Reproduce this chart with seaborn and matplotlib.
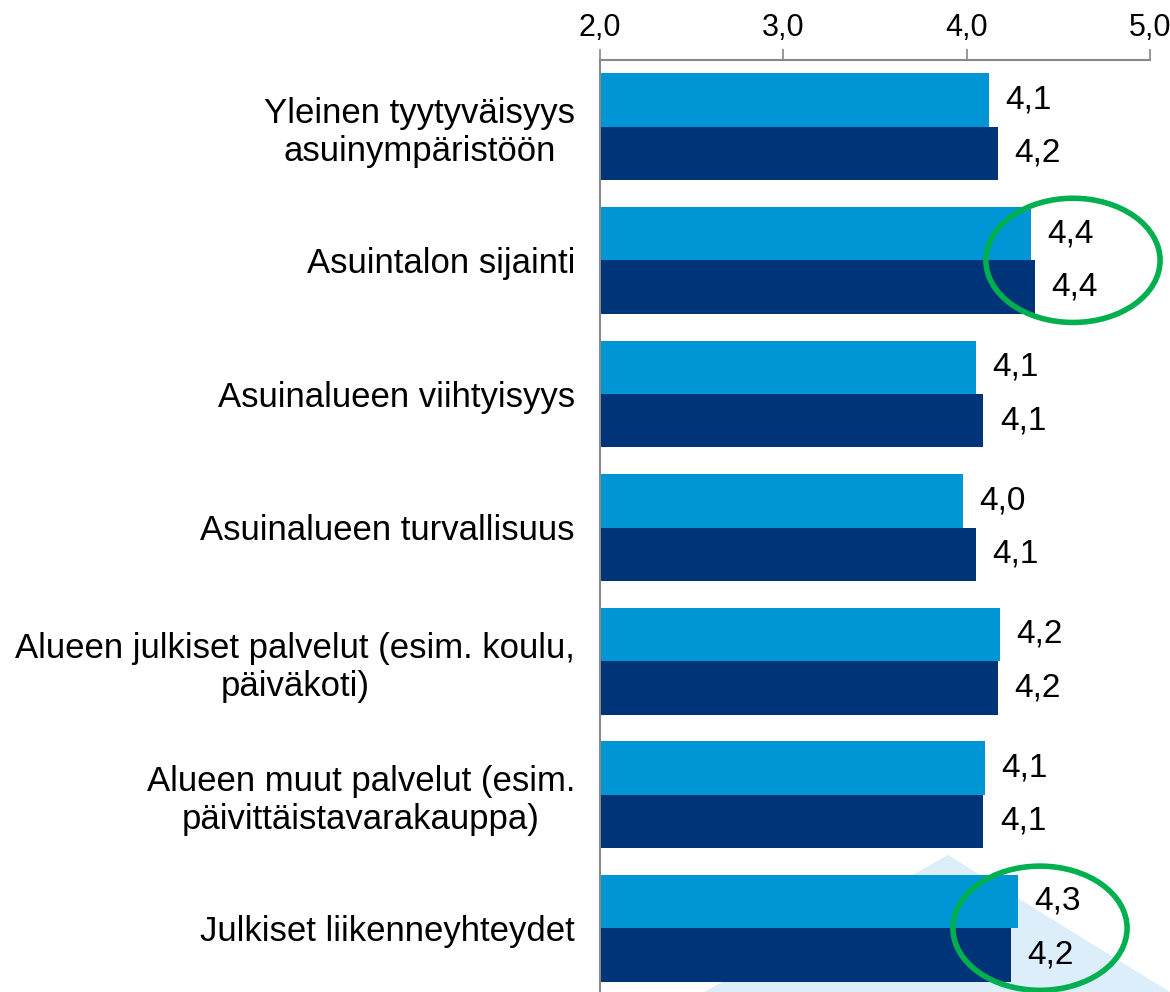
import matplotlib
matplotlib.use("Agg")
import matplotlib.pyplot as plt
from matplotlib.patches import Ellipse, Polygon
import seaborn as sns
import pandas as pd
import numpy as np

categories = [
    "Yleinen tyytyväisyys\nasuinympäristöön",
    "Asuintalon sijainti",
    "Asuinalueen viihtyisyys",
    "Asuinalueen turvallisuus",
    "Alueen julkiset palvelut (esim. koulu,\npäiväkoti)",
    "Alueen muut palvelut (esim.\npäivittäistavarakauppa)",
    "Julkiset liikenneyhteydet",
]
series_names = ["Sarja 1", "Sarja 2"]
values_a = [4.12, 4.35, 4.05, 3.98, 4.18, 4.10, 4.28]
values_b = [4.17, 4.37, 4.09, 4.05, 4.17, 4.09, 4.24]
labels_a = ["4,1", "4,4", "4,1", "4,0", "4,2", "4,1", "4,3"]
labels_b = ["4,2", "4,4", "4,1", "4,1", "4,2", "4,1", "4,2"]
xticks = [2.0, 3.0, 4.0, 5.0]
xtick_labels = ["2,0", "3,0", "4,0", "5,0"]

colors = ["#0096D6", "#003478"]

sns.set_theme(style="white")
plt.rcParams["font.family"] = ["Liberation Sans", "DejaVu Sans"]
plt.rcParams["text.color"] = "black"
plt.rcParams["xtick.color"] = "black"
plt.rcParams["ytick.color"] = "black"

df = pd.DataFrame({
    "cat": categories * 2,
    "val": values_a + values_b,
    "series": [series_names[0]] * len(categories) + [series_names[1]] * len(categories),
})

fig = plt.figure(figsize=(11.7, 9.92), dpi=100)
fig.patch.set_facecolor("white")

# background watermark triangle (figure coordinates)
tri = Polygon([[948 / 1170, 1 - 855 / 992], [704 / 1170, 0.0], [1.0, 0.0]],
              closed=True, transform=fig.transFigure, facecolor="#DCEEFA", edgecolor="none", zorder=0)
fig.patches.append(tri)

ax = fig.add_axes([600 / 1170, -3 / 992, 550 / 1170, 935 / 992])
ax.set_zorder(2)
ax.patch.set_alpha(0)

sns.barplot(data=df, y="cat", x="val", hue="series", palette=colors, orient="h",
            width=0.8, dodge=True, ax=ax, legend=False, saturation=1, linewidth=0)

for cont, labs in zip(ax.containers, [labels_a, labels_b]):
    ax.bar_label(cont, labels=labs, padding=12, fontsize=24, color="black")

ax.set_xlim(2.0, 5.0)
ax.set_ylim(6.5, -0.5)
ax.xaxis.tick_top()
ax.set_xticks(xticks)
ax.set_xticklabels(xtick_labels, fontsize=22)
ax.set_xlabel("")
ax.set_ylabel("")
ax.set_yticks(range(len(categories)))
ax.set_yticklabels(categories, fontsize=25, multialignment="center")
ax.tick_params(axis="y", which="major", length=0, pad=18)
ax.set_yticks(np.arange(-0.5, len(categories), 1.0), minor=True)
ax.tick_params(axis="y", which="minor", length=8, width=1.2, color="#888888", direction="out")
ax.tick_params(axis="x", which="major", length=8, width=1.2, color="#888888", direction="out", pad=4)

for s in ["right", "bottom"]:
    ax.spines[s].set_visible(False)
for s in ["left", "top"]:
    ax.spines[s].set_color("#888888")
    ax.spines[s].set_linewidth(1.5)

# highlight ellipses
for cx, cy in [(4.58, 1.0), (4.40, 6.0)]:
    e = Ellipse((cx, cy), width=0.95, height=0.93, fill=False, edgecolor="#00B050",
                linewidth=4, clip_on=False, zorder=5)
    ax.add_patch(e)

fig.savefig("out.png", dpi=100)
